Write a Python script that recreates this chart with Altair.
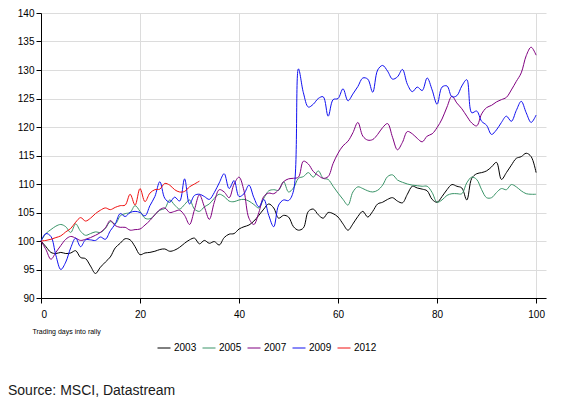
import altair as alt
import pandas as pd

years = ["2003", "2005", "2007", "2009", "2012"]
colors = ["#000000", "#3A9468", "#800080", "#1010F0", "#F01010"]
x_ticks = [0, 20, 40, 60, 80, 100]
y_ticks = [90, 95, 100, 105, 110, 115, 120, 125, 130, 135, 140]

s2003 = [100.0, 99.0, 98.0, 97.8, 98.0, 97.8, 97.9, 98.3, 97.1, 96.9,
         95.6, 94.3, 95.4, 96.3, 97.2, 98.8, 99.6, 100.4, 100.2, 99.0,
         97.6, 97.9, 98.0, 98.2, 98.5, 98.6, 98.2, 98.4, 98.9, 99.6,
         100.2, 100.5, 99.5, 100.1, 99.6, 99.9, 99.3, 100.6, 101.2, 101.3,
         102.1, 102.5, 102.8, 103.5, 104.5, 105.6, 106.5, 105.8, 104.0, 104.5,
         104.2, 102.5, 101.9, 102.3, 105.2, 105.6, 104.6, 104.0, 105.0, 104.8,
         104.2, 103.0, 101.9, 103.0, 104.3, 105.2, 104.2, 105.2, 106.5, 106.8,
         107.3, 107.6, 107.0, 106.7, 108.2, 109.6, 109.3, 109.1, 108.8, 107.3,
         106.8, 107.8, 109.0, 109.9, 109.6, 109.3, 107.2, 111.0, 111.8, 112.0,
         112.3, 113.0, 113.8, 110.8, 112.0, 113.3, 114.5, 114.8, 115.4, 114.8,
         112.0]
s2005 = [100.0, 101.3, 102.0, 102.6, 102.9, 102.5, 101.5, 103.0, 101.7, 101.0,
         101.3, 101.6, 101.5, 102.2, 103.4, 103.0, 104.4, 104.8, 105.0, 106.2,
         105.2, 104.0, 103.9, 104.6, 105.4, 105.7, 107.2, 106.3, 105.6, 106.4,
         107.2, 105.6, 105.2, 106.0, 106.5, 107.5, 108.2, 107.8, 107.0, 106.9,
         107.2, 107.3, 107.0, 106.4, 105.8, 107.5, 108.8, 109.0, 108.9, 110.4,
         108.6, 109.3, 111.0, 111.3, 112.0, 111.2, 112.3, 111.0, 110.8, 109.6,
         108.4, 107.3, 106.3, 108.6, 109.5, 109.2, 108.8, 108.6, 108.9, 109.8,
         111.3, 111.6, 110.7, 110.3, 110.0, 109.8, 109.7, 109.6, 109.6, 108.5,
         106.8, 107.2, 108.0, 108.3, 108.3, 108.3, 110.2, 111.2, 110.8, 109.0,
         107.6, 107.6, 108.5, 109.2, 109.0, 109.9, 109.5, 108.8, 108.3, 108.2,
         108.2]
s2007 = [100.0, 98.5, 96.8, 98.0, 99.2, 100.3, 100.8, 100.5, 100.1, 100.3,
         100.6, 101.0, 101.5, 102.3, 103.6, 102.7, 102.4, 102.4, 101.9, 102.0,
         102.1, 102.8, 103.6, 104.6, 105.5, 105.8, 105.0, 105.2, 105.4, 104.5,
         102.9, 105.5, 108.1, 106.0, 103.8, 106.8, 109.0, 108.6, 107.6, 110.0,
         111.2, 108.8, 104.0, 102.9, 105.0, 107.8, 108.4, 108.3, 109.0, 110.4,
         110.9, 111.0, 111.2, 114.0, 113.5, 112.2, 111.5, 111.0, 111.3, 113.6,
         115.4, 116.7, 117.5, 119.0, 120.8, 118.4, 117.7, 117.8, 118.7, 119.9,
         120.6, 118.2, 116.0, 117.3, 119.2, 118.8, 118.0, 117.4, 118.4, 118.8,
         119.9, 121.4, 123.5, 125.4, 124.2, 123.2, 121.9, 120.7, 120.2, 122.3,
         123.4, 123.8, 124.4, 124.8, 125.2, 126.5, 128.0, 129.5, 132.5, 134.0,
         132.6]
s2009 = [100.0, 101.3, 100.8, 97.5, 95.0, 96.3, 98.8, 100.5, 99.0, 100.2,
         100.2, 100.1, 100.7, 100.3, 101.8, 103.0, 104.8, 104.3, 105.0, 105.2,
         105.0, 104.4, 106.2, 107.8, 110.4, 107.5, 106.8, 107.7, 107.0, 110.9,
         106.5, 108.0, 108.2, 107.8, 107.3, 108.5, 110.2, 111.8, 109.2, 110.6,
         107.8, 108.3, 109.8, 107.6, 106.0, 107.3, 104.5, 102.5, 106.3, 107.2,
         107.1, 108.8, 130.2, 126.0, 123.5, 124.0, 125.0, 125.3, 121.9, 124.8,
         125.0, 126.7, 124.6, 125.8, 127.1, 128.6, 128.4, 126.1, 130.0, 130.8,
         129.8, 128.4, 128.8, 130.1, 127.5, 126.2, 127.0, 126.4, 128.6, 126.5,
         124.0, 127.0, 127.2, 125.3, 125.5, 127.2, 128.3, 122.5, 122.8, 121.0,
         120.3, 118.7, 119.5, 120.8, 121.9, 121.0, 122.9, 124.5, 122.5, 120.8,
         122.1]
s2012 = [100.0, 100.1, 100.3, 100.6, 100.9, 101.6, 102.2, 103.3, 104.1, 103.5,
         104.0, 104.8, 105.4, 105.8, 105.5, 105.9, 106.2, 106.3, 108.2, 106.3,
         109.2, 106.9, 108.4, 109.0, 109.1, 110.1, 109.8, 109.0, 108.6, 108.7,
         109.5, 110.0, 110.5]

rows = []
for yr, vals in zip(years, [s2003, s2005, s2007, s2009, s2012]):
    for d, v in enumerate(vals):
        rows.append({"day": d, "value": v, "year": yr})
df = pd.DataFrame(rows)

FONT = "Liberation Sans, Arial, sans-serif"

lines = alt.Chart(df).mark_line(interpolate="catmull-rom", strokeWidth=1).encode(
    x=alt.X("day:Q",
            scale=alt.Scale(domain=[0, 102], nice=False, zero=False),
            axis=alt.Axis(values=x_ticks, title="Trading days into rally",
                          titleFont=FONT, titleFontSize=7, titleFontWeight="normal",
                          titleColor="#000000", titleAnchor="start", titleAlign="left",
                          titleX=-9, titleY=35, titleBaseline="alphabetic",
                          labelFont=FONT, labelFontSize=10, labelColor="#000000",
                          labelPadding=6, tickSize=5, tickColor="#000000",
                          domainColor="#000000", gridColor="#DCDCDC")),
    y=alt.Y("value:Q",
            scale=alt.Scale(domain=[90, 140], nice=False, zero=False),
            axis=alt.Axis(values=y_ticks, title=None,
                          labelFont=FONT, labelFontSize=10, labelColor="#000000",
                          labelPadding=2, tickSize=5, tickColor="#000000",
                          domainColor="#000000", gridColor="#DCDCDC")),
    color=alt.Color("year:N",
                    scale=alt.Scale(domain=years, range=colors),
                    legend=alt.Legend(title=None, orient="none", direction="horizontal",
                                      legendX=116, legendY=328,
                                      symbolType="stroke", symbolSize=169,
                                      symbolStrokeWidth=1, labelFont=FONT,
                                      labelFontSize=10, labelColor="#000000",
                                      labelOffset=3, columnPadding=3)),
    order="day:Q",
)

source = alt.Chart(pd.DataFrame({"t": ["Source: MSCI, Datastream"]})).mark_text(
    align="left", baseline="middle", fontSize=14, font=FONT, color="#1A1A1A"
).encode(text="t:N", x=alt.value(-33), y=alt.value(378))

chart = alt.layer(lines, source).properties(
    width=505, height=285,
    padding={"left": 33, "top": 5, "right": 20, "bottom": 100},
    autosize=alt.AutoSizeParams(type="none"),
).configure_view(stroke=None)

chart.save("out.html", embed_options={"renderer": "svg", "actions": False})
